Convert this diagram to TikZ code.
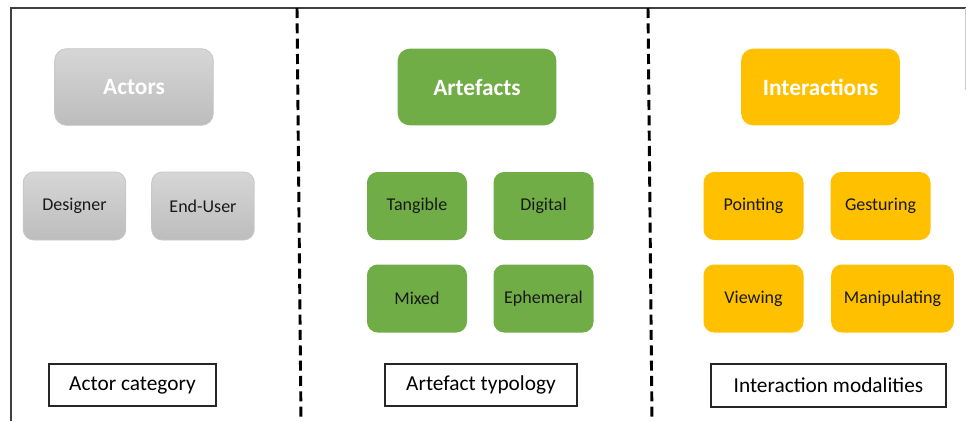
\documentclass[tikz,border=0pt]{standalone}
\usepackage{fontspec}
\setmainfont{Carlito}
\usepackage{tikz}
\usetikzlibrary{arrows}
\definecolor{cgreen}{HTML}{70AD47}
\definecolor{cgold}{HTML}{FFC000}
\definecolor{cgrey}{HTML}{C8C8C8}

\begin{document}
\begin{tikzpicture}[x=0.75pt,y=-0.75pt,
  head node/.style={rounded corners=9pt,inner sep=0pt,minimum width=119pt,minimum height=57.5pt,
    text=white,font=\bfseries\fontsize{17.5}{20}\selectfont},
  sub node/.style={rounded corners=8pt,inner sep=0pt,minimum width=75pt,minimum height=51pt,
    text=black!90,font=\fontsize{13.5}{15}\selectfont},
  actor node/.style={draw=black!22,line width=0.6pt,top color=black!16,bottom color=black!26},
  artefact node/.style={fill=cgreen},
  interaction node/.style={fill=cgold},
  caption node/.style={draw=black!85,line width=1.1pt,inner sep=0pt,minimum height=31.5pt,
    font=\fontsize{16}{18}\selectfont},
  divider/.style={line width=2.2pt,dash pattern=on 7.5pt off 4pt}]
  \useasboundingbox (0,0) rectangle (966,421);

  % frame
  \draw[black!75,line width=0.8pt] (11,421) -- (11,8) -- (966,8);
  \draw[black!20,line width=0.6pt] (965,8) -- (965,90);
  \draw[divider] (297,8) -- (301,421);
  \draw[divider] (648,8) -- (652,421);

  % actors
  \node[head node,actor node] (actors) at (134,87) {Actors};
  \node[sub node,actor node,minimum width=77pt] (designer) at (74.5,206) {Designer};
  \node[sub node,actor node,minimum width=77pt] (enduser) at (203,206) {End-User};
  \node[caption node,minimum width=125pt] (actcat) at (132.5,385) {Actor category};

  % artefacts
  \node[head node,artefact node] (artefacts) at (477,87) {Artefacts};
  \node[sub node,artefact node] (tangible) at (417,206) {Tangible};
  \node[sub node,artefact node] (digital) at (543.5,206) {Digital};
  \node[sub node,artefact node] (mixed) at (417,298.5) {Mixed};
  \node[sub node,artefact node] (ephemeral) at (543.5,298.5) {Ephemeral};
  \node[caption node,minimum width=144pt] (arttyp) at (481,385) {Artefact typology};

  % interactions
  \node[head node,interaction node] (interactions) at (820.5,87) {Interactions};
  \node[sub node,interaction node] (pointing) at (753.5,206) {Pointing};
  \node[sub node,interaction node] (gesturing) at (880.5,206) {Gesturing};
  \node[sub node,interaction node] (viewing) at (753.5,298.5) {Viewing};
  \node[sub node,interaction node,minimum width=92pt] (manipulating) at (892.5,298.5) {Manipulating};
  \node[caption node,minimum width=176pt,minimum height=32pt] (intmod) at (828.5,385.5) {Interaction modalities};
\end{tikzpicture}
\end{document}
